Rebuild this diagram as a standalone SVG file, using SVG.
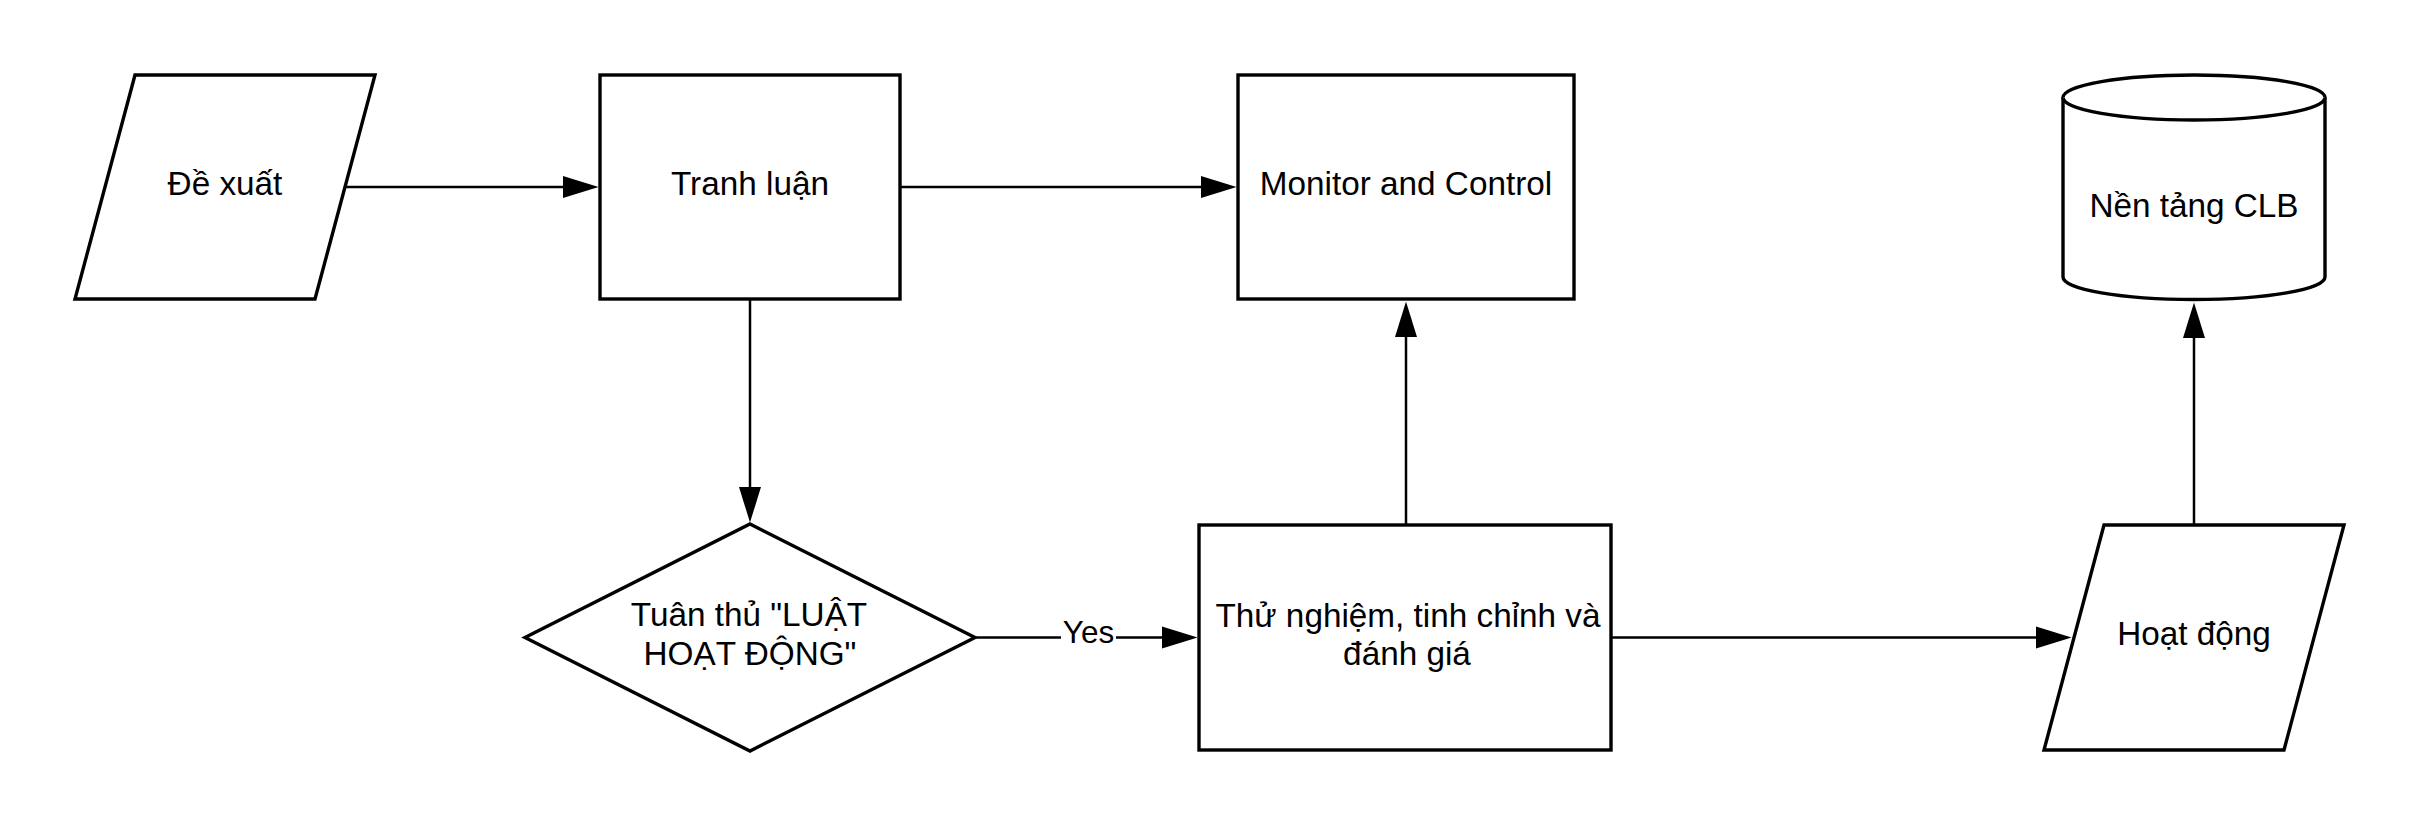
<svg xmlns="http://www.w3.org/2000/svg" width="2419" height="825" viewBox="0 0 2419 825">
<style>
.shape{fill:#fff;stroke:#000;stroke-width:3.4;stroke-linejoin:miter}
.edge{fill:none;stroke:#000;stroke-width:2.5}
.label{font-family:"Liberation Sans",Arial,sans-serif;font-size:33.3px;fill:#000;text-anchor:middle}
.elabel{font-family:"Liberation Sans",Arial,sans-serif;font-size:31.5px;fill:#000;text-anchor:middle}
</style>
<defs>
<marker id="arrow" markerUnits="userSpaceOnUse" markerWidth="36" markerHeight="24" viewBox="0 0 34 21" refX="24" refY="10.5" orient="auto">
<path d="M0,0 L34,10.5 L0,21 Z" fill="#000"/>
</marker>
</defs>
<rect x="0" y="0" width="2419" height="825" fill="#fff"/>
<g id="connectors">
<line class="edge" x1="345" y1="187" x2="588" y2="187" marker-end="url(#arrow)"/>
<line class="edge" x1="900" y1="187" x2="1226" y2="187" marker-end="url(#arrow)"/>
<line class="edge" x1="750" y1="299" x2="750" y2="512" marker-end="url(#arrow)"/>
<line class="edge" x1="975" y1="637.5" x2="1187" y2="637.5" marker-end="url(#arrow)"/>
<rect x="1061" y="618" width="55" height="32" fill="#fff"/>
<text class="elabel" x="1088.5" y="643">Yes</text>
<line class="edge" x1="1406" y1="525" x2="1406" y2="312" marker-end="url(#arrow)"/>
<line class="edge" x1="1611" y1="637.5" x2="2061" y2="637.5" marker-end="url(#arrow)"/>
<line class="edge" x1="2194" y1="525" x2="2194" y2="313" marker-end="url(#arrow)"/>
</g>
<g id="node-de-xuat">
<polygon class="shape" points="135,75 375,75 315,299 75,299"/>
<text class="label" x="225" y="195">Đề xuất</text>
</g>
<g id="node-tranh-luan">
<rect class="shape" x="600" y="75" width="300" height="224"/>
<text class="label" x="750" y="195">Tranh luận</text>
</g>
<g id="node-monitor">
<rect class="shape" x="1238" y="75" width="336" height="224"/>
<text class="label" x="1406" y="195">Monitor and Control</text>
</g>
<g id="node-nen-tang">
<path class="shape" d="M2063,97.5 A131,22.5 0 0 1 2325,97.5 L2325,277 A131,22.5 0 0 1 2063,277 Z"/>
<path class="shape" d="M2063,97.5 A131,22.5 0 0 0 2325,97.5" fill="none"/>
<text class="label" x="2194" y="217">Nền tảng CLB</text>
</g>
<g id="node-tuan-thu">
<polygon class="shape" points="750,524 975,637.5 750,751 525,637.5"/>
<text class="label" x="749" y="626">Tuân thủ "LUẬT</text>
<text class="label" x="750" y="664.5">HOẠT ĐỘNG"</text>
</g>
<g id="node-thu-nghiem">
<rect class="shape" x="1199" y="525" width="412" height="225"/>
<text class="label" x="1408" y="626.5">Thử nghiệm, tinh chỉnh và</text>
<text class="label" x="1407" y="665">đánh giá</text>
</g>
<g id="node-hoat-dong">
<polygon class="shape" points="2104,525 2344,525 2284,750 2044,750"/>
<text class="label" x="2194" y="645">Hoạt động</text>
</g>
</svg>
